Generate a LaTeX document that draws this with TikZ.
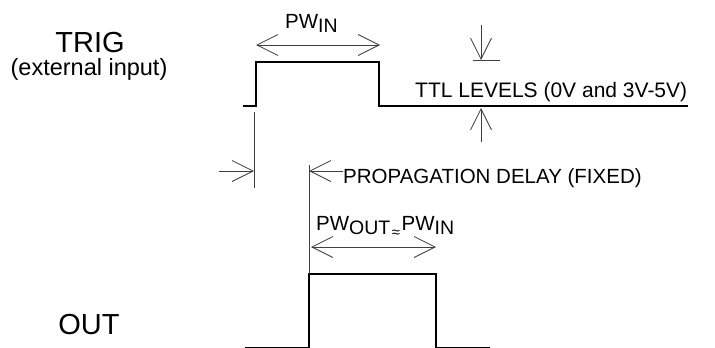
\documentclass[tikz,border=0pt]{standalone}
\usepackage{fontspec}
\setmainfont{Liberation Sans}
\usetikzlibrary{arrows.meta}

\newcommand\lowsub[1]{\raisebox{-4pt}{\fontsize{19.5}{19.5}\selectfont #1}}
\newcommand\smallapprox{\hspace{1.5pt}\raisebox{-7pt}{\fontsize{15}{15}\selectfont ≈}\hspace{1.5pt}}

\begin{document}
\begin{tikzpicture}[x=1pt,y=-1pt]
          \tikzset{signal/.style={line width=2.5pt, line join=miter}}
          \tikzset{dimline/.style={line width=0.8pt, black!75}}
          \tikzset{barb/.style={-{Straight Barb[length=21pt,width=21pt]}}}
          \tikzset{barbs/.style={{Straight Barb[length=21pt,width=21pt]}-{Straight Barb[length=21pt,width=21pt]}}}
          \tikzset{label/.style={inner sep=0pt, font=\fontsize{20.5}{20.5}\selectfont}}
          \tikzset{biglabel/.style={inner sep=0pt, font=\fontsize{29}{29}\selectfont}}

          \useasboundingbox (0,0) rectangle (715,348);

          % names of the signals
          \node[biglabel] (trig) at (90,43) {TRIG};
          \node[inner sep=0pt, font=\fontsize{23.5}{23.5}\selectfont] (ext) at (89,69) {(external input)};
          \node[biglabel] (out) at (89,325) {OUT};

          % trigger pulse
          \coordinate (t0) at (243,106);
          \coordinate (t1) at (256,106);
          \coordinate (t2) at (256,62);
          \coordinate (t3) at (379,62);
          \coordinate (t4) at (379,106);
          \coordinate (t5) at (688,106);
          \draw[signal] (t0) -- (t1) -- (t2) -- (t3) -- (t4) -- (t5);

          % output pulse
          \coordinate (o0) at (245,348.5);
          \coordinate (o1) at (309,348.5);
          \coordinate (o2) at (309,274);
          \coordinate (o3) at (436,274);
          \coordinate (o4) at (436,348.5);
          \coordinate (o5) at (490,348.5);
          \draw[signal] (o0) -- (o1) -- (o2) -- (o3) -- (o4) -- (o5);

          % pulse width in
          \node[label, anchor=base west] (pwin) at (285,28) {PW\lowsub{IN}};
          \coordinate (pwa) at (256,45);
          \coordinate (pwb) at (380,45);
          \draw[dimline, barbs] (pwa) -- (pwb);

          % ttl levels
          \node[label, anchor=base west, font=\fontsize{21}{21}\selectfont] (ttl) at (415,97) {TTL LEVELS (0V and 3V-5V)};
          \coordinate (ta) at (481,25);
          \coordinate (tb) at (481,60);
          \coordinate (tl) at (473,60);
          \coordinate (tr) at (500,60);
          \coordinate (tc) at (481,142);
          \coordinate (td) at (481,108);
          \draw[dimline, barb] (ta) -- (tb);
          \draw[dimline] (tl) -- (tr);
          \draw[dimline, barb] (tc) -- (td);

          % propagation delay
          \node[label, anchor=base west] (prop) at (343,183) {PROPAGATION DELAY (FIXED)};
          \coordinate (pa) at (254,112);
          \coordinate (pb) at (254,188);
          \coordinate (pc) at (219,171);
          \coordinate (pd) at (254,171);
          \coordinate (pe) at (309,165);
          \coordinate (pf) at (309,171);
          \draw[dimline] (pa) -- (pb);
          \draw[dimline, barb] (pc) -- (pd);
          \draw[dimline] (pe) -- (o2);
          \draw[dimline, barb] (prop.west |- pf) -- (pf);

          % pulse width out
          \node[label, anchor=base west] (pwout) at (316,230) {PW\lowsub{OUT}\smallapprox PW\lowsub{IN}};
          \coordinate (qa) at (311,247);
          \coordinate (qb) at (436,247);
          \draw[dimline, barbs] (qa) -- (qb);
        \end{tikzpicture}
\end{document}
